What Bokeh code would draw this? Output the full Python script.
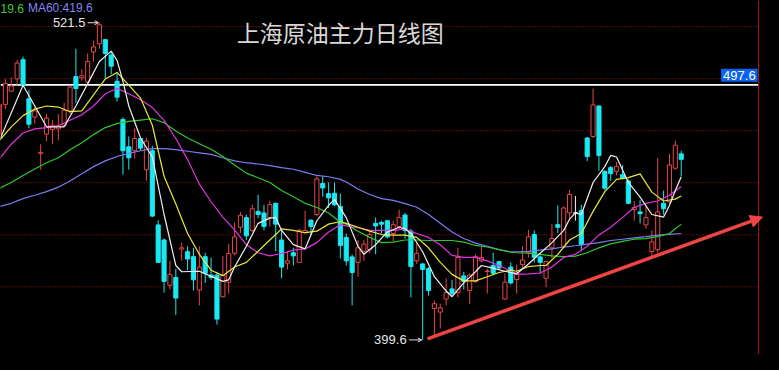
import numpy as np
from bokeh.plotting import figure
from bokeh.models import ColumnDataSource, Range1d, Label, Arrow, NormalHead, OpenHead, Span
from bokeh.embed import file_html
from bokeh.resources import INLINE

# ---------------- data ----------------
opens = [478.5, 490.1, 495.2, 499.9, 507.3, 492.3, 485.2, 471.3, 478.7, 480.5,
         480.7, 482.1, 487.6, 500.8, 500.3, 498.7, 510.3, 513.4, 515.0, 509.1,
         499.0, 484.3, 473.8, 472.3, 477.0, 465.0, 472.3, 443.8, 438.0, 420.6,
         423.6, 434.5, 433.5, 431.6, 418.8, 431.6, 424.5, 424.5, 416.2, 421.8,
         432.9, 442.9, 446.6, 441.7, 449.0, 448.4, 446.6, 452.1, 438.0, 429.1,
         433.1, 429.4, 440.8, 445.6, 447.8, 459.7, 455.8, 456.0, 450.9, 439.0,
         431.5, 429.4, 433.7, 434.3, 444.4, 444.7, 445.4, 440.5, 443.2, 447.6,
         441.4, 430.0, 428.8, 427.0, 411.7, 410.3, 415.3, 419.2, 417.8, 424.2,
         418.6, 422.1, 430.0, 425.9, 428.2, 429.7, 415.3, 427.6, 422.8, 428.6,
         433.1, 440.1, 431.5, 423.3, 435.0, 443.9, 435.6, 448.4, 448.4, 449.3,
         477.2, 477.8, 489.5, 464.4, 465.8, 464.4, 463.1, 460.7, 449.7, 448.8,
         443.8, 433.6, 434.3, 452.1, 452.7, 465.6, 471.1]
highs = [491.0, 499.9, 500.5, 507.3, 508.5, 495.6, 488.9, 474.8, 486.4, 484.0,
         486.4, 490.7, 497.5, 511.5, 503.6, 509.7, 514.6, 521.5, 515.2, 510.3,
         502.4, 485.2, 477.8, 480.9, 477.2, 477.2, 474.2, 445.6, 438.6, 430.0,
         427.0, 437.0, 435.6, 435.0, 435.6, 433.1, 431.3, 425.8, 431.9, 436.5,
         444.7, 448.7, 447.8, 451.5, 455.4, 451.5, 453.1, 452.4, 441.7, 433.7,
         435.0, 442.3, 449.3, 446.0, 462.5, 462.5, 460.1, 460.1, 455.8, 440.5,
         432.5, 438.0, 438.0, 441.7, 446.6, 445.4, 445.6, 445.4, 449.7, 448.4,
         442.3, 437.4, 429.1, 427.6, 414.7, 413.5, 423.3, 422.7, 435.0, 425.8,
         425.2, 432.5, 435.8, 427.0, 433.1, 430.0, 425.2, 429.4, 428.6, 435.6,
         441.9, 441.7, 432.1, 430.0, 444.1, 451.3, 450.9, 457.3, 454.9, 451.5,
         477.5, 496.2, 489.7, 464.8, 466.4, 468.0, 466.8, 461.3, 453.0, 453.3,
         451.5, 441.7, 469.5, 457.0, 471.1, 476.2, 472.3]
lows = [476.5, 488.3, 495.0, 497.5, 496.8, 480.9, 482.7, 465.0, 476.0, 474.8,
        476.3, 481.5, 486.4, 490.7, 499.3, 498.1, 506.6, 511.5, 499.9, 501.7,
        491.3, 463.1, 465.0, 469.3, 472.3, 460.7, 446.8, 429.4, 417.8, 419.0,
        409.2, 430.0, 426.4, 418.6, 412.9, 421.5, 422.7, 405.5, 416.0, 417.4,
        432.1, 440.7, 438.0, 441.1, 446.4, 441.7, 443.2, 433.7, 423.3, 426.7,
        428.2, 429.2, 440.5, 439.8, 447.2, 454.6, 450.3, 451.0, 430.9, 428.2,
        412.9, 423.9, 430.0, 433.1, 432.5, 440.5, 438.6, 437.4, 442.3, 438.6,
        416.0, 428.8, 399.6, 416.6, 400.6, 404.0, 412.9, 416.2, 416.0, 419.0,
        413.5, 421.5, 429.4, 417.4, 424.5, 426.4, 415.0, 420.9, 417.4, 427.3,
        431.3, 429.4, 425.2, 419.9, 430.9, 440.7, 435.0, 446.4, 445.4, 433.7,
        468.3, 477.2, 464.6, 457.0, 460.7, 462.8, 461.3, 451.7, 445.4, 444.4,
        442.3, 431.9, 433.1, 447.8, 452.1, 465.0, 462.5]
closes = [490.2, 498.1, 497.2, 506.0, 497.5, 482.5, 487.6, 471.7, 484.8, 482.1,
          481.9, 487.9, 496.8, 496.2, 501.1, 506.6, 512.2, 520.7, 509.7, 504.8,
          492.9, 472.3, 469.6, 477.0, 473.3, 476.0, 447.2, 429.4, 422.1, 424.8,
          415.7, 435.0, 430.7, 422.7, 427.6, 425.2, 423.6, 407.6, 424.5, 432.8,
          439.2, 447.5, 439.6, 450.0, 447.8, 443.2, 451.6, 444.1, 427.6, 430.0,
          431.9, 441.7, 441.7, 443.2, 461.5, 458.0, 454.2, 451.5, 435.9, 430.0,
          425.5, 435.0, 436.4, 440.1, 443.4, 444.1, 439.2, 443.9, 446.6, 441.7,
          427.8, 432.9, 426.7, 418.6, 413.5, 411.9, 417.8, 417.4, 431.3, 422.1,
          424.5, 431.6, 431.3, 426.1, 425.2, 427.3, 421.8, 421.5, 425.4, 430.3,
          439.2, 431.3, 429.4, 429.7, 438.6, 442.9, 450.3, 455.5, 448.4, 436.2,
          470.1, 489.9, 470.5, 457.9, 463.5, 466.2, 461.9, 452.1, 450.5, 448.1,
          446.6, 437.3, 448.8, 450.0, 466.8, 474.4, 469.0]

ma5_x = [0, 4, 8, 11, 13, 15, 17, 19, 20, 21, 22, 24, 26, 28, 30, 31, 34, 38, 39, 40,
         42, 44, 46, 47, 48, 50, 52, 54, 56, 57, 59, 61, 62, 64, 66, 68, 69, 70, 72, 74,
         76, 77, 79, 81, 82, 84, 86, 88, 90, 92, 94, 96, 97, 98, 99, 101, 103, 104, 105, 107,
         109, 111, 113, 114, 115, 116]
ma5_y = [476.3, 497.5, 481.5, 481.5, 489.5, 498.1, 506.6, 510.6, 507.0, 499.0,
         489.5, 477.2, 469.9, 447.8, 428.2, 425.8, 426.0, 422.1, 422.7, 427.6,
         435.6, 444.4, 446.4, 446.6, 441.7, 436.2, 434.6, 445.4, 451.3, 453.6,
         446.6, 435.6, 432.5, 436.2, 441.1, 442.9, 442.3, 440.5, 433.5, 423.9,
         418.4, 416.2, 421.5, 425.8, 428.2, 427.2, 426.0, 425.0, 428.8, 432.9,
         437.0, 441.7, 446.0, 448.4, 447.8, 460.1, 466.2, 470.5, 469.9, 460.1,
         454.5, 447.8, 446.8, 451.3, 457.0, 462.3]

ma10_x = [0, 2, 4, 6, 8, 10, 12, 14, 16, 18, 20, 22, 24, 26, 28, 30, 32, 34, 36, 38,
          40, 42, 44, 46, 48, 50, 52, 54, 56, 58, 59, 61, 63, 65, 67, 69, 71, 73, 75, 77,
          79, 81, 83, 85, 87, 88, 90, 92, 93, 95, 97, 99, 101, 103, 105, 107, 109, 111, 113, 115,
          116]
ma10_y = [476.3, 481.5, 485.8, 488.3, 489.5, 489.1, 487.3, 487.6, 493.8, 499.9,
          502.4, 497.5, 492.5, 482.1, 462.5, 451.8, 440.5, 432.5, 426.4, 424.3,
          427.6, 429.4, 433.7, 438.0, 442.3, 441.7, 440.8, 441.4, 444.1, 445.1,
          444.4, 442.9, 441.4, 440.1, 439.9, 439.9, 439.0, 435.0, 429.4, 424.8,
          422.3, 422.3, 423.9, 425.5, 426.4, 426.0, 427.8, 428.2, 428.2, 432.5,
          438.0, 440.5, 449.0, 456.6, 461.3, 462.0, 463.4, 456.4, 453.0, 453.7,
          454.9]

ma20_x = [0, 2, 4, 6, 8, 10, 12, 14, 16, 18, 20, 22, 24, 26, 28, 30, 32, 34, 36, 38,
          40, 42, 44, 46, 48, 50, 52, 54, 56, 58, 59, 61, 63, 65, 67, 69, 71, 73, 75, 77,
          79, 81, 83, 85, 87, 88, 90, 92, 94, 96, 98, 100, 102, 104, 106, 108, 110, 112, 114, 116]
ma20_y = [469.3, 474.8, 479.1, 480.7, 481.2, 481.9, 484.0, 486.1, 489.5, 494.2,
          496.2, 494.2, 491.9, 488.9, 484.0, 477.0, 468.9, 459.5, 452.7, 446.8,
          441.9, 436.2, 433.1, 431.9, 432.8, 434.1, 434.6, 437.0, 441.1, 443.9,
          443.4, 442.7, 441.7, 441.7, 441.7, 442.2, 440.5, 439.0, 436.2, 432.1,
          431.3, 431.3, 430.0, 428.2, 426.0, 424.8, 425.0, 425.3, 427.6, 431.3,
          432.5, 435.6, 439.9, 442.9, 446.6, 450.5, 452.1, 453.0, 455.2, 458.6]

ma40_x = [0, 2, 4, 6, 8, 10, 12, 14, 16, 18, 20, 22, 24, 26, 28, 30, 32, 34, 36, 38,
          40, 42, 44, 46, 48, 50, 52, 54, 56, 58, 59, 61, 63, 65, 67, 69, 71, 73, 75, 77,
          79, 81, 83, 85, 87, 88, 90, 92, 94, 96, 98, 100, 102, 104, 106, 108, 110, 112, 114, 115,
          116]
ma40_y = [457.9, 460.1, 462.8, 465.3, 467.7, 469.6, 472.7, 475.4, 478.5, 481.2,
          482.7, 483.6, 484.1, 484.6, 483.1, 479.9, 477.2, 475.0, 472.9, 470.1,
          466.8, 463.7, 461.9, 460.1, 457.0, 454.6, 452.1, 450.5, 448.4, 444.8,
          444.1, 441.4, 439.0, 437.0, 437.2, 438.0, 438.0, 437.8, 437.8, 437.8,
          437.2, 435.9, 435.3, 434.3, 433.4, 433.1, 432.9, 432.5, 431.9, 431.6,
          431.8, 433.1, 435.0, 436.5, 437.5, 438.3, 438.5, 439.3, 440.5, 442.3,
          444.1]

ma60_x = [0, 2, 4, 6, 8, 10, 12, 14, 16, 18, 20, 22, 24, 26, 28, 30, 32, 34, 36, 38,
          40, 42, 44, 46, 48, 50, 52, 54, 56, 58, 59, 61, 63, 65, 67, 69, 71, 73, 75, 77,
          79, 81, 83, 85, 87, 88, 90, 92, 94, 96, 98, 100, 102, 104, 106, 108, 110, 112, 114, 116]
ma60_y = [450.9, 452.1, 453.9, 455.2, 456.6, 458.3, 460.7, 463.5, 466.2, 468.4,
          470.1, 471.3, 472.3, 473.1, 473.1, 472.7, 472.1, 471.5, 470.9, 469.6,
          468.4, 467.7, 467.2, 466.6, 465.8, 465.2, 464.0, 462.8, 462.3, 461.3,
          460.3, 457.6, 455.5, 453.9, 453.2, 452.0, 450.6, 447.8, 444.4, 441.1,
          438.6, 436.8, 435.6, 434.3, 433.4, 433.4, 433.6, 434.1, 434.6, 435.3,
          435.8, 436.4, 437.0, 437.8, 438.3, 438.8, 439.3, 439.9, 440.2, 440.5]

grid_levels = [420, 440, 460, 480, 500, 520]
ref_level = 497.6
trend_x = [72.83, 129.83]
trend_y = [400.0, 446.8]
title_text = "上海原油主力日线图"
header_texts = ["19.6", "MA60:419.6"]

# ---------------- layout / style ----------------
REF_W, REF_H = 779, 370
W, H = 763, 354
X_LO, X_HI = 1 / 6, 130.0
Y_LO, Y_HI = 394.0, 530.04
AXIS_X = 775 / 6

def sx(rx):
    return rx * W / REF_W

def sy(ry):
    return (REF_H - ry) * H / REF_H

BG = "#000000"
RED = "#e84646"
CYAN = "#1ae8f2"
WHITE = "#f0f0f0"
GRID = "#a01c1c"

p = figure(width=W, height=H, x_range=Range1d(X_LO, X_HI), y_range=Range1d(Y_LO, Y_HI),
           x_axis_type=None, y_axis_type=None, toolbar_location=None, output_backend="svg",
           min_border=0, title=None)
p.background_fill_color = BG
p.border_fill_color = BG
p.outline_line_color = None
p.grid.visible = False

# grid lines and reference line
p.segment(x0=[X_LO] * len(grid_levels), y0=grid_levels, x1=[AXIS_X] * len(grid_levels),
          y1=grid_levels, line_color=GRID, line_width=1, line_dash="1 2")
p.segment(x0=[X_LO], y0=[ref_level], x1=[AXIS_X], y1=[ref_level], line_color="#ffffff", line_width=1.6)
p.add_layout(Span(location=AXIS_X, dimension="height", line_color="#a81818", line_width=1))

# candles
n = len(opens)
xs = list(range(n))
colors, fills = [], []
for o, c in zip(opens, closes):
    if c > o:
        colors.append(RED); fills.append(BG)
    elif c < o:
        colors.append(CYAN); fills.append(CYAN)
    else:
        colors.append(WHITE); fills.append(WHITE)
src = ColumnDataSource(dict(
    x=xs, high=highs, low=lows,
    top=[max(o, c) for o, c in zip(opens, closes)],
    bottom=[min(o, c) for o, c in zip(opens, closes)],
    color=colors, fill=fills))
p.segment(x0="x", y0="high", x1="x", y1="low", line_color="color", line_width=1, source=src)
p.vbar(x="x", width=0.7, top="top", bottom="bottom", fill_color="fill",
       line_color="color", line_width=1, source=src)

# moving averages
p.line(ma60_x, ma60_y, line_color="#7c7cf0", line_width=1.2)
p.line(ma40_x, ma40_y, line_color="#2ec82e", line_width=1.2)
p.line(ma20_x, ma20_y, line_color="#e232e2", line_width=1.2)
p.line(ma10_x, ma10_y, line_color="#e8e83a", line_width=1.2)
p.line(ma5_x, ma5_y, line_color=WHITE, line_width=1.2)

# trend arrow
p.add_layout(Arrow(x_start=trend_x[0], y_start=trend_y[0], x_end=trend_x[1], y_end=trend_y[1],
                   line_color="#f04444", line_width=3.5,
                   end=NormalHead(size=12, fill_color="#f04444", line_color="#f04444")))

# high / low markers
hi_idx = int(np.argmax(highs)); hi = highs[hi_idx]
lo_idx = int(np.argmin(lows)); lo = lows[lo_idx]
p.add_layout(Label(x=hi_idx, y=hi, x_offset=-14, text=f"{hi:.1f}", text_align="right",
                   text_baseline="middle", text_font="Liberation Sans", text_font_size="13px",
                   text_color="#e6e6e6"))
p.add_layout(Arrow(x_start=hi_idx - 2.0, y_start=hi, x_end=hi_idx - 0.15, y_end=hi,
                   line_color="#e6e6e6", line_width=1,
                   end=OpenHead(size=4, line_color="#e6e6e6", line_width=1)))
p.add_layout(Label(x=lo_idx, y=lo, x_offset=-16, text=f"{lo:.1f}", text_align="right",
                   text_baseline="middle", text_font="Liberation Sans", text_font_size="13px",
                   text_color="#e6e6e6"))
p.add_layout(Arrow(x_start=lo_idx - 2.3, y_start=lo, x_end=lo_idx - 0.15, y_end=lo,
                   line_color="#e6e6e6", line_width=1,
                   end=OpenHead(size=4, line_color="#e6e6e6", line_width=1)))

# reference level box
p.add_layout(Label(x=sx(773), y=sy(78), x_units="screen", y_units="screen",
                   text=f"{ref_level:.1f}", text_align="right", text_baseline="middle",
                   text_font="Liberation Sans", text_font_size="13px", text_color="#ffffff",
                   background_fill_color="#0a62f2", padding=2))

# title and header
p.add_layout(Label(x=sx(347), y=sy(33), x_units="screen", y_units="screen", text=title_text,
                   text_align="center", text_baseline="middle", text_font="Noto Sans CJK SC",
                   text_font_size="23px", text_color="#d8d8d8"))
p.add_layout(Label(x=sx(0), y=sy(8), x_units="screen", y_units="screen", text=header_texts[0],
                   text_align="left", text_baseline="middle", text_font="Liberation Sans",
                   text_font_size="12px", text_color="#3cc83c"))
p.add_layout(Label(x=sx(28), y=sy(8), x_units="screen", y_units="screen", text=header_texts[1],
                   text_align="left", text_baseline="middle", text_font="Liberation Sans",
                   text_font_size="12px", text_color="#8484f4"))

html = file_html(p, INLINE, title=title_text)
html = html.replace("</head>", "<style>html,body{background:#000000;}</style></head>", 1)
open("out.html", "w", encoding="utf-8").write(html)
